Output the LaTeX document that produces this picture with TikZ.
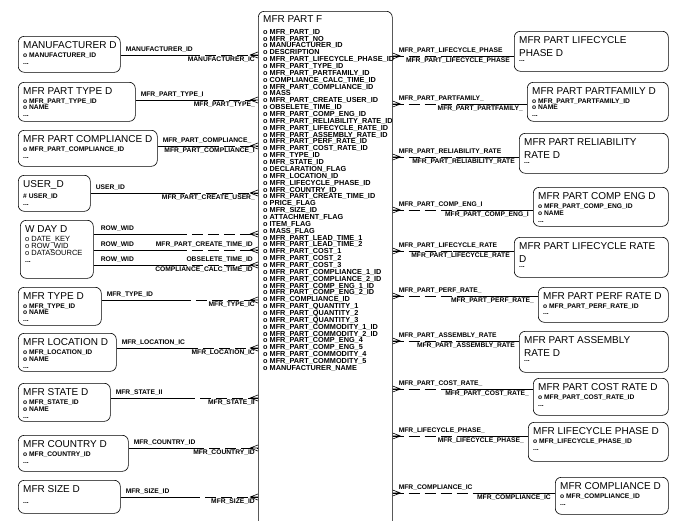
\documentclass[tikz,border=0pt]{standalone}
\usepackage{fontspec}
\setmainfont{Liberation Sans}
\usetikzlibrary{calc}
\newcommand\ttl{\fontsize{10}{13}\selectfont}
\newcommand\att{\fontsize{6.7}{6.86}\selectfont\bfseries}
\newcommand\tatt{\fontsize{7.3}{6.86}\selectfont\bfseries}
\tikzset{
 ebox/.style={draw,rounded corners=6pt,line width=0.6pt,anchor=north west,inner sep=0pt},
 tl/.style={anchor=north west,font=\ttl,align=left,inner sep=0pt},
 al/.style={anchor=north west,font=\att,align=left,inner sep=0pt},
 lbl/.style={font=\att,inner sep=0pt},
 dsh/.style={dash pattern=on 11pt off 5pt,line width=0.6pt},
 sol/.style={line width=0.6pt},
}
% name, x1, y1, x2, y2, title, attributes
\newcommand\ent[7]{%
 \node[ebox,minimum width={(#4-#2)*1pt},minimum height={(#5-#3)*1pt}] (#1) at (#2,#3) {};
 \node[tl] (#1t) at (#2+5,#3+5) {#6};
 \node[al] (#1a) at ($(#1t.south west)+(0,4)$) {#7};
}
% id, box, y, top label, bottom label
\newcommand\lconn[5]{%
 \coordinate (#1y) at (0,#3);
 \coordinate (#1a) at (#2.east |- #1y);
 \coordinate (#1b) at (T.west |- #1y);
 \coordinate (#1m) at ($(#1a)!0.5!(#1b)$);
 \draw[sol] (#1a) -- (#1m);
 \draw[dsh] (#1m) -- (#1b);
 \draw[sol] ($(#1b)+(-8,0)$) -- ($(#1b)+(0,-3)$) ($(#1b)+(-8,0)$) -- ($(#1b)+(0,3)$) ($(#1b)+(-8,0)$) -- (#1b);
 \node[lbl,anchor=south west] at ($(#1a)+(5,-2)$) {#4};
 \node[lbl,anchor=north east] at ($(#1b)+(-3,2)$) {#5};
}
\newcommand\rconn[5]{%
 \coordinate (#1y) at (0,#3);
 \coordinate (#1a) at (T.east |- #1y);
 \coordinate (#1b) at (#2.west |- #1y);
 \coordinate (#1m) at ($(#1a)!0.5!(#1b)$);
 \draw[dsh] (#1a) -- (#1m);
 \draw[sol] (#1m) -- (#1b);
 \draw[sol] ($(#1a)+(8,0)$) -- ($(#1a)+(0,-3)$) ($(#1a)+(8,0)$) -- ($(#1a)+(0,3)$) ($(#1a)+(8,0)$) -- (#1a);
 \node[lbl,anchor=south west] at ($(#1a)+(6,-2)$) {#4};
 \node[lbl,anchor=north east] at ($(#1b)+(-4,2)$) {#5};
}
\begin{document}
\begin{tikzpicture}[x=1pt,y=-1pt]
\useasboundingbox (0,0) rectangle (677,520);
\clip (0,0) rectangle (677,520);
\fill[white] (0,0) rectangle (677,520);
% central table
\node[ebox,minimum width=134pt,minimum height=540pt] (T) at (258,11) {};
\node[tl] (Tt) at (263,15) {MFR PART F};
\node[al,font=\tatt] (Ta) at (263,29) {o MFR\_PART\_ID\\o MFR\_PART\_NO\\o MANUFACTURER\_ID\\o DESCRIPTION\\o MFR\_PART\_LIFECYCLE\_PHASE\_ID\\o MFR\_PART\_TYPE\_ID\\o MFR\_PART\_PARTFAMILY\_ID\\o COMPLIANCE\_CALC\_TIME\_ID\\o MFR\_PART\_COMPLIANCE\_ID\\o MASS\\o MFR\_PART\_CREATE\_USER\_ID\\o OBSELETE\_TIME\_ID\\o MFR\_PART\_COMP\_ENG\_ID\\o MFR\_PART\_RELIABILITY\_RATE\_ID\\o MFR\_PART\_LIFECYCLE\_RATE\_ID\\o MFR\_PART\_ASSEMBLY\_RATE\_ID\\o MFR\_PART\_PERF\_RATE\_ID\\o MFR\_PART\_COST\_RATE\_ID\\o MFR\_TYPE\_ID\\o MFR\_STATE\_ID\\o DECLARATION\_FLAG\\o MFR\_LOCATION\_ID\\o MFR\_LIFECYCLE\_PHASE\_ID\\o MFR\_COUNTRY\_ID\\o MFR\_PART\_CREATE\_TIME\_ID\\o PRICE\_FLAG\\o MFR\_SIZE\_ID\\o ATTACHMENT\_FLAG\\o ITEM\_FLAG\\o MASS\_FLAG\\o MFR\_PART\_LEAD\_TIME\_1\\o MFR\_PART\_LEAD\_TIME\_2\\o MFR\_PART\_COST\_1\\o MFR\_PART\_COST\_2\\o MFR\_PART\_COST\_3\\o MFR\_PART\_COMPLIANCE\_1\_ID\\o MFR\_PART\_COMPLIANCE\_2\_ID\\o MFR\_PART\_COMP\_ENG\_1\_ID\\o MFR\_PART\_COMP\_ENG\_2\_ID\\o MFR\_COMPLIANCE\_ID\\o MFR\_PART\_QUANTITY\_1\\o MFR\_PART\_QUANTITY\_2\\o MFR\_PART\_QUANTITY\_3\\o MFR\_PART\_COMMODITY\_1\_ID\\o MFR\_PART\_COMMODITY\_2\_ID\\o MFR\_PART\_COMP\_ENG\_4\\o MFR\_PART\_COMP\_ENG\_5\\o MFR\_PART\_COMMODITY\_4\\o MFR\_PART\_COMMODITY\_5\\o MANUFACTURER\_NAME};
% left entities
\ent{L1}{18}{36}{120}{72}{MANUFACTURER D}{o MANUFACTURER\_ID\\...}
\ent{L2}{18}{82}{135}{121}{MFR PART TYPE D}{o MFR\_PART\_TYPE\_ID\\o NAME\\...}
\ent{L3}{18}{130}{157}{166}{MFR PART COMPLIANCE D}{o MFR\_PART\_COMPLIANCE\_ID\\...}
\ent{L4}{18}{175}{90}{211}{USER\_D}{\# USER\_ID\\...}
\ent{L5}{20}{220}{93}{278}{W DAY D}{\mdseries\fontsize{7.5}{9.5}\selectfont o DATE\_KEY\\\mdseries\fontsize{7.5}{9.5}\selectfont o ROW\_WID\\\mdseries\fontsize{7.5}{9.5}\selectfont o DATASOURCE\\...}
\ent{L6}{18}{287}{101}{325}{MFR TYPE D}{o MFR\_TYPE\_ID\\o NAME\\...}
\ent{L7}{18}{333}{116}{371}{MFR LOCATION D}{o MFR\_LOCATION\_ID\\o NAME\\...}
\ent{L8}{18}{383}{110}{421}{MFR STATE D}{o MFR\_STATE\_ID\\o NAME\\...}
\ent{L9}{18}{435}{128}{471}{MFR COUNTRY D}{o MFR\_COUNTRY\_ID\\...}
\ent{L10}{18}{480}{120}{513}{MFR SIZE D}{\\...}
\lconn{c1}{L1}{55}{MANUFACTURER\_ID}{MANUFACTURER\_IC}
\lconn{c2}{L2}{100}{MFR\_PART\_TYPE\_I}{MFR\_PART\_TYPE\_}
\lconn{c3}{L3}{146}{MFR\_PART\_COMPLIANCE\_}{MFR\_PART\_COMPLIANCE\_I}
\lconn{c4}{L4}{193}{USER\_ID}{MFR\_PART\_CREATE\_USER\_}
% W DAY connectors
\coordinate (w1y) at (0,234); \coordinate (w2y) at (0,250); \coordinate (w3y) at (0,265);
\foreach \i in {1,2,3}{
 \coordinate (w\i a) at (L5.east |- w\i y);
 \coordinate (w\i b) at (T.west |- w\i y);
 \draw[sol] (w\i a) -- ($(w\i a)!0.5!(w\i b)$);
 \draw[dsh] ($(w\i a)!0.5!(w\i b)$) -- (w\i b);
 \draw[sol] ($(w\i b)+(-8,0)$) -- ($(w\i b)+(0,-3)$) ($(w\i b)+(-8,0)$) -- ($(w\i b)+(0,3)$) ($(w\i b)+(-8,0)$) -- (w\i b);
 \node[lbl,anchor=south west] (w\i l) at ($(w\i a)+(7,-2)$) {ROW\_WID};
}
\node[lbl,anchor=south east] (w1r) at ($(w2b)+(-5,-2)$) {MFR\_PART\_CREATE\_TIME\_ID};
\node[lbl,anchor=south east] (w2r) at ($(w3b)+(-5,-2)$) {OBSELETE\_TIME\_ID};
\node[lbl,anchor=north east] (w3r) at ($(w3b)+(-5,2)$) {COMPLIANCE\_CALC\_TIME\_ID};
\lconn{c6}{L6}{300}{MFR\_TYPE\_ID}{MFR\_TYPE\_IC}
\lconn{c7}{L7}{348}{MFR\_LOCATION\_IC}{MFR\_LOCATION\_IC}
\lconn{c8}{L8}{398}{MFR\_STATE\_II}{MFR\_STATE\_II}
\lconn{c9}{L9}{448}{MFR\_COUNTRY\_ID}{MFR\_COUNTRY\_ID}
\lconn{c10}{L10}{497}{MFR\_SIZE\_ID}{MFR\_SIZE\_ID}
% right entities
\ent{R1}{514}{31}{668}{71}{MFR PART LIFECYCLE\\PHASE D}{...}
\ent{R2}{527}{82}{668}{121}{MFR PART PARTFAMILY D}{o MFR\_PART\_PARTFAMILY\_ID\\o NAME\\...}
\ent{R3}{519}{133}{668}{173}{MFR PART RELIABILITY\\RATE D}{...}
\ent{R4}{533}{187}{668}{226}{MFR PART COMP ENG D}{o MFR\_PART\_COMP\_ENG\_ID\\o NAME\\...}
\ent{R5}{514}{237}{668}{277}{MFR PART LIFECYCLE RATE\\D}{...}
\ent{R6}{538}{287}{668}{322}{MFR PART PERF RATE D}{o MFR\_PART\_PERF\_RATE\_ID\\...}
\ent{R7}{519}{331}{668}{372}{MFR PART ASSEMBLY\\RATE D}{...}
\ent{R8}{533}{378}{668}{415}{MFR PART COST RATE D}{o MFR\_PART\_COST\_RATE\_ID\\...}
\ent{R9}{528}{422}{668}{461}{MFR LIFECYCLE PHASE D}{o MFR\_LIFECYCLE\_PHASE\_ID\\...}
\ent{R10}{555}{477}{668}{514}{MFR COMPLIANCE D}{o MFR\_COMPLIANCE\_ID\\...}
\rconn{d1}{R1}{56}{MFR\_PART\_LIFECYCLE\_PHASE}{MFR\_PART\_LIFECYCLE\_PHASE}
\rconn{d2}{R2}{104}{MFR\_PART\_PARTFAMILY\_}{MFR\_PART\_PARTFAMILY\_}
\rconn{d3}{R3}{157}{MFR\_PART\_RELIABILITY\_RATE}{MFR\_PART\_RELIABILITY\_RATE}
\rconn{d4}{R4}{210}{MFR\_PART\_COMP\_ENG\_I}{MFR\_PART\_COMP\_ENG\_I}
\rconn{d5}{R5}{251}{MFR\_PART\_LIFECYCLE\_RATE}{MFR\_PART\_LIFECYCLE\_RATE}
\rconn{d6}{R6}{296}{MFR\_PART\_PERF\_RATE\_}{MFR\_PART\_PERF\_RATE\_}
\rconn{d7}{R7}{341}{MFR\_PART\_ASSEMBLY\_RATE}{MFR\_PART\_ASSEMBLY\_RATE}
\rconn{d8}{R8}{389}{MFR\_PART\_COST\_RATE\_}{MFR\_PART\_COST\_RATE\_}
\rconn{d9}{R9}{436}{MFR\_LIFECYCLE\_PHASE\_}{MFR\_LIFECYCLE\_PHASE\_}
\rconn{d10}{R10}{493}{MFR\_COMPLIANCE\_IC}{MFR\_COMPLIANCE\_IC}
\end{tikzpicture}
\end{document}
